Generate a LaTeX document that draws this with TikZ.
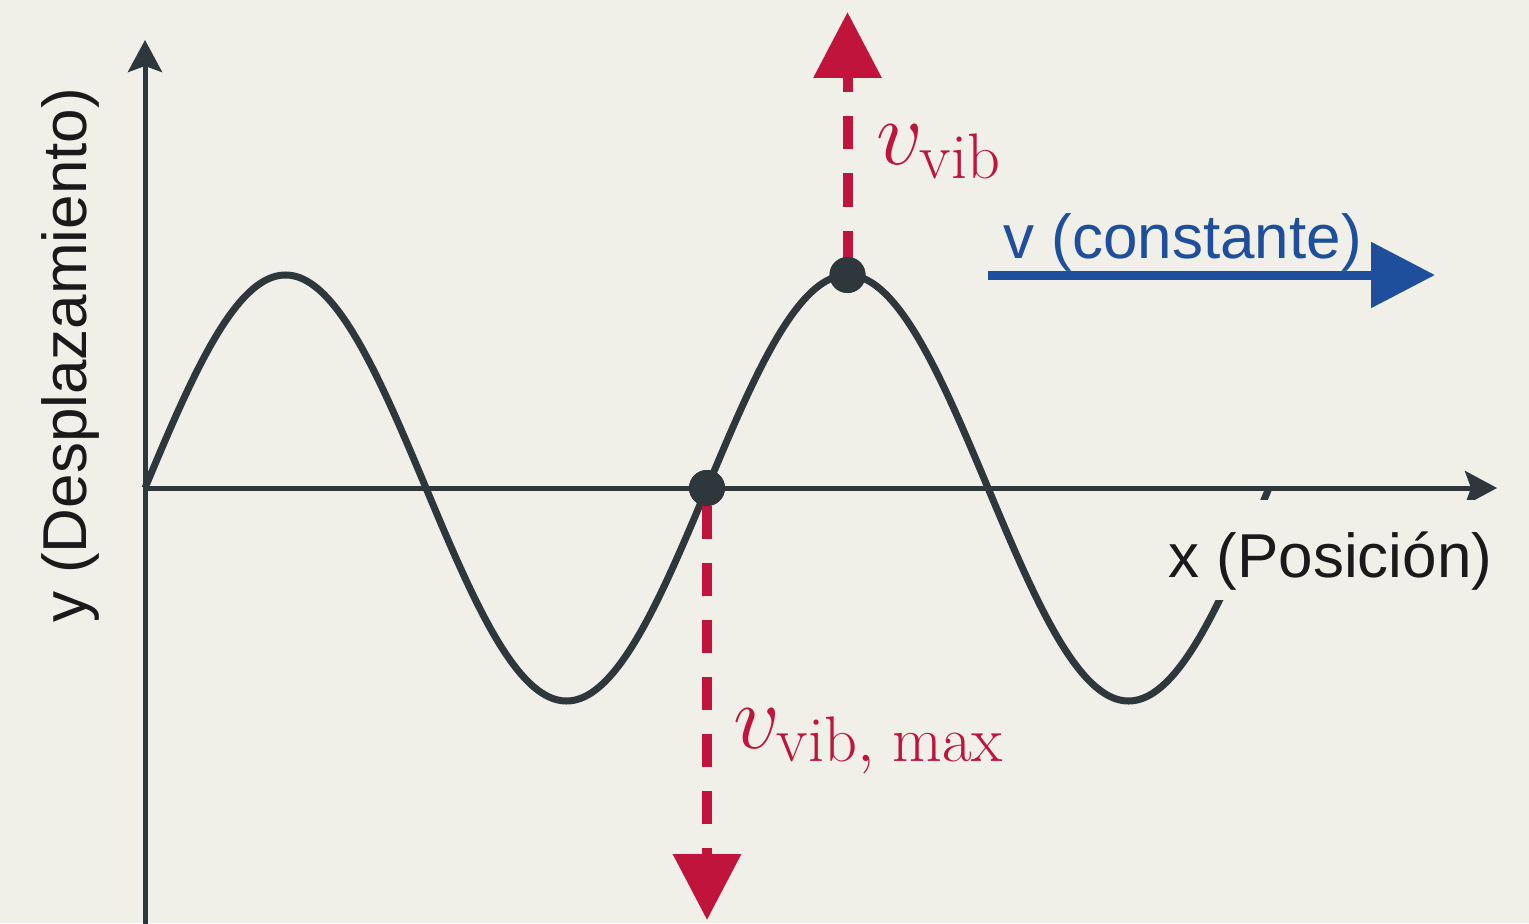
\documentclass[tikz,border=0pt]{standalone}
\usepackage{fix-cm}
\usepackage{fontspec}
\newfontfamily\labelfont{Liberation Sans}
\usetikzlibrary{arrows.meta}
\definecolor{bgc}{HTML}{F0EFE8}
\definecolor{axisc}{HTML}{2E373B}
\definecolor{redc}{HTML}{C0143C}
\definecolor{bluec}{HTML}{1E4F9C}
\definecolor{txtc}{HTML}{1A1A1A}
\tikzset{
  axisline/.style={draw=axisc, line width=2.5pt, -{Stealth[length=16pt, width=17pt, inset=3pt]}},
  wave/.style={draw=axisc, line width=3.5pt},
  dotnode/.style={circle, fill=axisc, inner sep=0pt, minimum size=18pt},
  velarrow/.style={draw=redc, line width=5pt, dash pattern=on 16.5pt off 12pt},
  headstart/.style={{Triangle[length=33pt, width=33pt]}-},
  headend/.style={-{Triangle[length=33pt, width=33pt]}},
  bluearrow/.style={draw=bluec, line width=4.5pt, -{Triangle[length=32pt, width=32pt]}},
  axislabel/.style={font=\labelfont\fontsize{31}{36}\selectfont, text=txtc, inner sep=0pt},
  mathlabel/.style={font=\fontsize{46}{52}\selectfont, text=redc, inner sep=0pt, anchor=base west},
}
\begin{document}
\begin{tikzpicture}[x=0.5pt, y=0.5pt]
  \useasboundingbox (0,0) rectangle (1529,923);
  \fill[bgc] (0,0) rectangle (1529,923);
  % axes
  \coordinate (ybot) at (145,-5);
  \coordinate (ytop) at (145,883);
  \coordinate (origin) at (145,435);
  \coordinate (xend) at (1497,435);
  \draw[axisline] (ybot) -- (ytop);
  \draw[axisline] (origin) -- (xend);
  % wave
  \draw[wave] plot[domain=0:720, samples=241, smooth] ({145+1.561111*\x},{435+213*sin(\x)});
  % x label (covers the wave)
  \node[axislabel, anchor=base west, fill=bgc, text height=38.5pt, text depth=11.5pt] (xlab) at (1168,346) {x (Posición)};
  % y label
  \node[axislabel, rotate=90] (ylab) at (70,568) {y (Desplazamiento)};
  % dots
  \node[dotnode] (peak) at (847.5,648) {};
  \node[dotnode] (zero) at (707,435) {};
  % red velocity arrows
  \coordinate (uptip) at (847.5,911);
  \coordinate (downtip) at (707,3);
  \draw[velarrow, headstart, dash phase=8pt] (uptip) -- (peak.center);
  \draw[velarrow, headend] (zero.south) -- (downtip);
  \node[mathlabel] (vvib) at (876,758) {$v_{\mathrm{vib}}$};
  \node[mathlabel] (vmax) at (733,175) {$v_{\mathrm{vib},\mkern5mu\mathrm{max}}$};
  % redraw dots on top
  \node[dotnode] at (peak) {};
  \node[dotnode] at (zero) {};
  % blue arrow
  \coordinate (bstart) at (988,648);
  \coordinate (bend) at (1435,648);
  \draw[bluearrow] (bstart) -- (bend);
  \node[axislabel, anchor=base west, text=bluec] (vlab) at (1003,665) {v (constante)};
\end{tikzpicture}
\end{document}
